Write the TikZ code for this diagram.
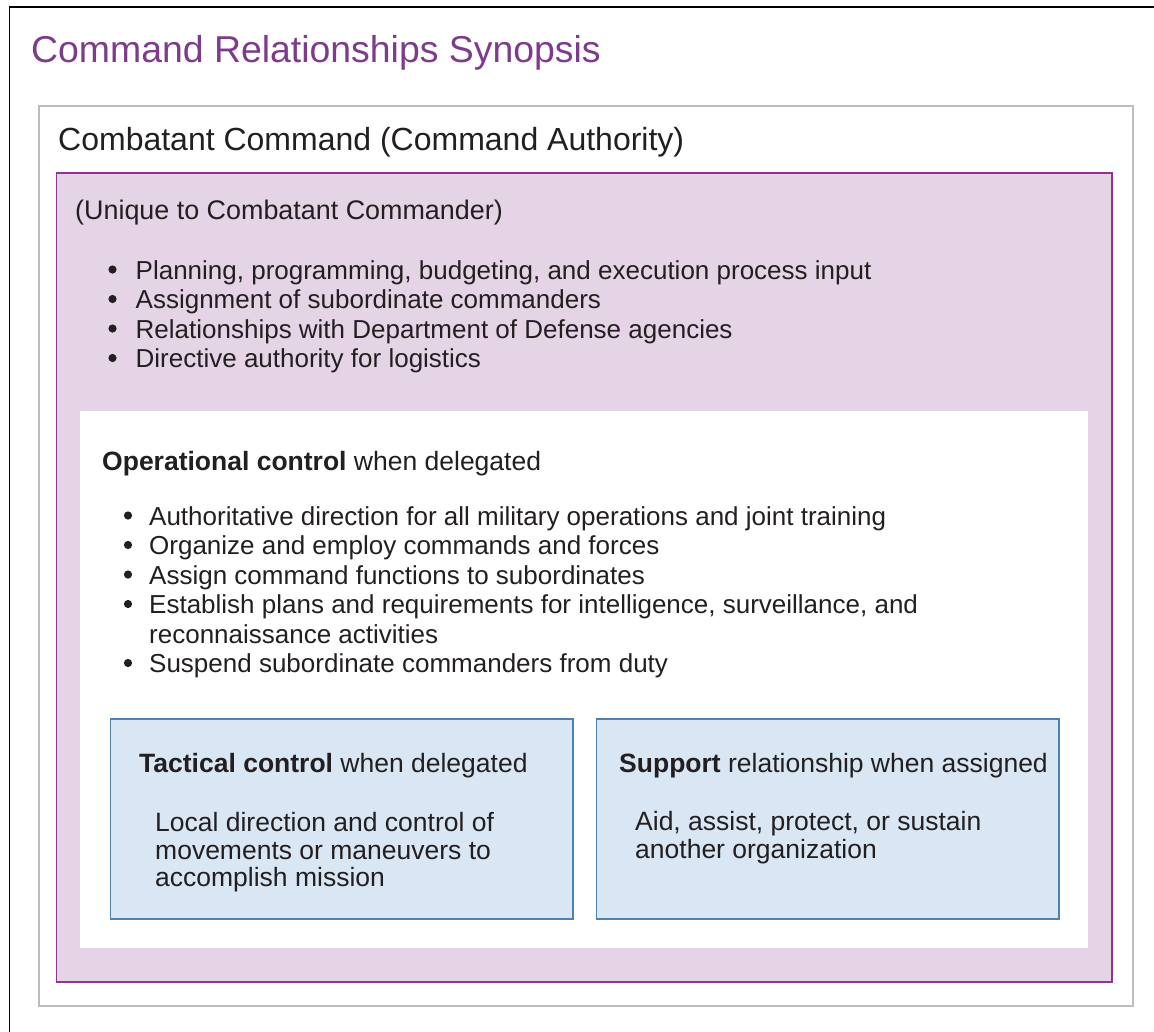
\documentclass[tikz,border=0pt]{standalone}
\usepackage{fontspec}
\setmainfont{Liberation Sans}
\definecolor{ink}{HTML}{231F20}
\definecolor{titlepurple}{HTML}{7E3B8C}
\definecolor{framegray}{HTML}{BDBDBD}
\definecolor{boxpurple}{HTML}{93338F}
\definecolor{fillpurple}{HTML}{E5D3E6}
\definecolor{boxblue}{HTML}{4D81B1}
\definecolor{fillblue}{HTML}{D9E6F3}

\begin{document}
\begin{tikzpicture}[x=1pt,y=-1pt,
  txt/.style={anchor=base west,inner sep=0pt,text=ink,font=\fontsize{26.5}{29.5}\selectfont},
  item/.style={txt,font=\fontsize{26}{29.5}\selectfont},
  dot/.style={fill=ink}]

\useasboundingbox (0,0) rectangle (1154,1031);

% frames
\draw[black,line width=1.3pt] (9.5,1060) -- (9.5,7) -- (1180,7);
\draw[framegray,line width=2.2pt] (39,106) rectangle (1133,1006);
\draw[boxpurple,fill=fillpurple,line width=1.6pt] (56.5,173) rectangle (1112,982);
\fill[white] (80,411) rectangle (1088,948);
\draw[boxblue,fill=fillblue,line width=1.2pt] (110.5,719) rectangle (573,919);
\draw[boxblue,fill=fillblue,line width=1.2pt] (596.5,719) rectangle (1059,919);

% headings
\node[txt,text=titlepurple,font=\fontsize{37.4}{40}\selectfont] (title) at (31,62) {Command Relationships Synopsis};
\node[txt,font=\fontsize{32}{35}\selectfont] (cocom) at (58,150) {Combatant Command (Command Authority)};

% unique to combatant commander
\node[txt,font=\fontsize{26.9}{30}\selectfont] (unique) at (75,219) {(Unique to Combatant Commander)};
\foreach \s [count=\i] in {{Planning, programming, budgeting, and execution process input},
    Assignment of subordinate commanders,
    Relationships with Department of Defense agencies,
    Directive authority for logistics}
{
  \node[item] (cc\i) at (135.5,{279+29.5*(\i-1)}) {\s};
  \fill[dot] ([shift={(-23,-9.5)}]cc\i.base west) circle (4.1pt);
}

% operational control
\node[txt] (opcon) at (102,470) {\textbf{Operational control} when delegated};
\foreach \s [count=\i] in {Authoritative direction for all military operations and joint training,
    Organize and employ commands and forces,
    Assign command functions to subordinates,
    {Establish plans and requirements for intelligence, surveillance, and}}
{
  \node[item] (op\i) at (149,{525+29.5*(\i-1)}) {\s};
  \fill[dot] ([shift={(-21,-9.5)}]op\i.base west) circle (4.1pt);
}
\node[item] (op5) at (149,643) {reconnaissance activities};
\node[item] (op6) at (149,672.5) {Suspend subordinate commanders from duty};
\fill[dot] ([shift={(-21,-9.5)}]op6.base west) circle (4.1pt);

% tactical control and support
\node[txt] (tacon) at (139,772) {\textbf{Tactical control} when delegated};
\foreach \s [count=\i] in {Local direction and control of, movements or maneuvers to, accomplish mission}
  \node[txt] (tac\i) at (155,{831.5+27.5*(\i-1)}) {\s};

\node[txt] (supp) at (619,772) {\textbf{Support} relationship when assigned};
\foreach \s [count=\i] in {{Aid, assist, protect, or sustain}, another organization}
  \node[txt] (sup\i) at (635,{830+28*(\i-1)}) {\s};

\end{tikzpicture}
\end{document}
